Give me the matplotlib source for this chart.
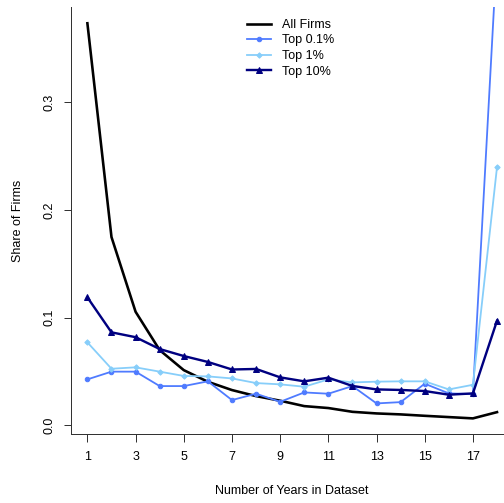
import matplotlib
matplotlib.use("Agg")
import matplotlib.pyplot as plt

plt.rcParams['font.family'] = ['Liberation Sans', 'DejaVu Sans']

years = list(range(1, 19))

all_firms = [0.3735, 0.175, 0.1056, 0.070, 0.0514, 0.0406, 0.0329, 0.0273, 0.023,
             0.018, 0.0162, 0.0127, 0.0112, 0.0103, 0.009, 0.0078, 0.0066, 0.0124]
top_01 = [0.0428, 0.050, 0.050, 0.0366, 0.0366, 0.041, 0.0236, 0.0295, 0.022,
          0.0307, 0.0295, 0.0366, 0.0205, 0.0217, 0.0388, 0.0298, 0.0292, 0.44]
top_1 = [0.0772, 0.0527, 0.054, 0.050, 0.046, 0.0456, 0.0437, 0.0394, 0.0382,
         0.036, 0.0428, 0.040, 0.0407, 0.041, 0.041, 0.0335, 0.0378, 0.240]
top_10 = [0.119, 0.0865, 0.082, 0.071, 0.0645, 0.059, 0.052, 0.0525, 0.0447,
          0.041, 0.0444, 0.0367, 0.0335, 0.033, 0.032, 0.0286, 0.0298, 0.0973]

x_ticks = [1, 3, 5, 7, 9, 11, 13, 15, 17]
y_ticks = [0.0, 0.1, 0.2, 0.3]

fs = 12.5
W, H = 504, 503
fig = plt.figure(figsize=(W / 72, H / 72), dpi=72)
# plot region in pixels: left 71, right 513 (runs past the edge), top 7, bottom 434
ax = fig.add_axes([71 / W, (H - 434) / H, (513.4 - 71) / W, (434 - 7) / H])

ax.plot(years, all_firms, color='black', lw=2.6, label='All Firms')
ax.plot(years, top_01, color='#4f7bff', lw=1.8, marker='o', ms=4.5, label='Top 0.1%')
ax.plot(years, top_1, color='#87cefa', lw=1.8, marker='D', ms=3.8, label='Top 1%')
ax.plot(years, top_10, color='#000080', lw=2.4, marker='^', ms=6.5, label='Top 10%')

ax.set_xlim(0.32, 18.68)
ax.set_ylim(-0.0079, 0.3886)

ax.set_xticks(x_ticks)
ax.set_xticklabels([str(t) for t in x_ticks])
ax.set_yticks(y_ticks)
ax.set_yticklabels(['0.0', '0.1', '0.2', '0.3'], rotation=90, va='center')

for s in ['top', 'right']:
    ax.spines[s].set_visible(False)
for s in ['left', 'bottom']:
    ax.spines[s].set_linewidth(1.0)
    ax.spines[s].set_color('#333333')

ax.tick_params(axis='both', direction='out', length=7.5, width=1.0, colors='#333333',
               labelcolor='black', labelsize=fs)
ax.tick_params(axis='x', pad=10)
ax.tick_params(axis='y', pad=8)

fig.text(18 / W, 1 - 220.5 / H, 'Share of Firms', rotation=90, ha='center', va='center', fontsize=fs)
fig.text(292 / W, 1 - 491 / H, 'Number of Years in Dataset', ha='center', va='center', fontsize=fs)

ax.legend(loc='upper left', bbox_to_anchor=(247 / W, 1 - 19 / H), bbox_transform=fig.transFigure,
          frameon=False, fontsize=fs, handlelength=1.92, handletextpad=0.88,
          borderpad=0, borderaxespad=0, labelspacing=0.28)

fig.savefig('out.png', dpi=72)
